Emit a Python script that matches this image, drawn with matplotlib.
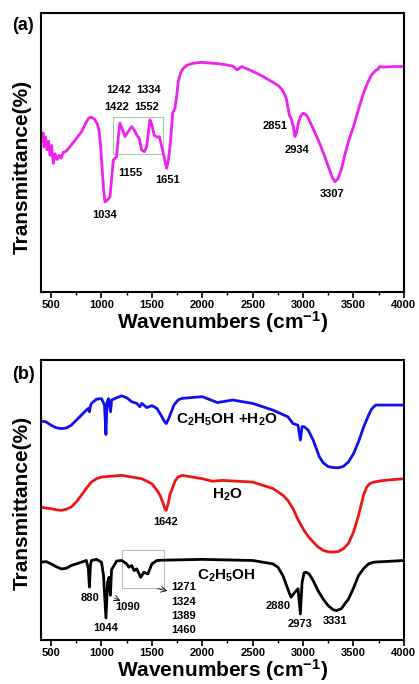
import numpy as np
import matplotlib.pyplot as plt
from matplotlib.patches import Rectangle
from matplotlib.ticker import MultipleLocator

plt.rcParams['font.family'] = ['Liberation Sans', 'DejaVu Sans']
plt.rcParams['font.weight'] = 'bold'
plt.rcParams['mathtext.fontset'] = 'custom'
plt.rcParams['mathtext.rm'] = 'Liberation Sans:bold'
plt.rcParams['mathtext.bf'] = 'Liberation Sans:bold'
plt.rcParams['mathtext.it'] = 'Liberation Sans:bold'
plt.rcParams['mathtext.default'] = 'bf'

# panel (a) spectrum (wavenumber, transmittance in arbitrary units)
wn_a = [400, 410, 420, 430, 445, 460, 475, 490, 505, 522, 540, 560, 580, 600, 620, 650,
        688, 740, 803, 850, 875, 900, 930, 955, 975, 990, 1005, 1020, 1034, 1060, 1084, 1117,
        1150, 1165, 1183, 1205, 1233, 1265, 1299, 1325, 1349, 1375, 1398, 1425, 1448,
        1465, 1481, 1500, 1521, 1550, 1574, 1613, 1646, 1665, 1686, 1706, 1729, 1745,
        1762, 1785, 1812, 1850, 1911, 1993, 2100, 2192, 2300, 2347, 2390, 2506, 2605,
        2704, 2760, 2787, 2815, 2836, 2863, 2886, 2905, 2919, 2935, 2952, 2975, 3001,
        3030, 3060, 3100, 3150, 3200, 3250, 3290, 3316, 3345, 3380, 3420, 3460, 3500,
        3550, 3600, 3640, 3679, 3720, 3745, 3760, 3795, 3900, 4000]
tr_a = [56.9, 54.0, 57.0, 52.0, 55.5, 51.0, 54.0, 49.0, 52.5, 46.1, 49.5, 47.5, 49.0, 48.0, 50.0, 50.5,
        52.1, 54.5, 57.5, 61.0, 62.4, 62.6, 62.0, 60.5, 58.0, 53.0, 45.0, 37.0, 32.3, 33.0, 34.1, 47.3,
        48.5, 55.0, 60.5, 58.5, 55.7, 57.5, 59.3, 58.0, 56.3, 55.0, 50.9, 50.3, 52.1,
        57.0, 61.7, 60.0, 56.3, 55.5, 55.7, 49.7, 44.3, 47.5, 54.5, 64.1, 65.9, 70.0,
        75.5, 78.6, 80.2, 81.3, 82.0, 82.3, 82.0, 81.7, 81.0, 79.6, 80.8, 79.0, 77.2,
        75.1, 73.8, 72.7, 71.0, 68.9, 63.5, 61.7, 59.0, 55.7, 57.0, 60.5, 63.0, 64.1,
        63.5, 61.7, 58.5, 54.5, 50.0, 45.0, 41.0, 39.5, 40.5, 44.0, 50.0, 55.0, 59.3,
        65.5, 71.3, 75.0, 77.8, 79.4, 79.9, 80.8, 80.6, 80.8, 80.8]

# panel (b) spectra
wn_mix = [400, 450, 500, 550, 600, 650, 700, 750, 800, 850, 870, 880, 890, 900, 950, 1000,
          1030, 1044, 1055, 1070, 1090, 1100, 1150, 1200, 1250, 1300, 1350, 1380, 1400,
          1450, 1500, 1550, 1600, 1625, 1642, 1660, 1680, 1720, 1760, 1800, 2000, 2150,
          2300, 2500, 2700, 2850, 2900, 2950, 2973, 2990, 3010, 3050, 3100, 3130, 3160,
          3200, 3250, 3300, 3350, 3400, 3450, 3500, 3550, 3600, 3650, 3680, 3720, 3800, 4000]
tr_mix = [78.2, 77.9, 76.7, 75.8, 75.5, 75.7, 76.7, 78.5, 80.3, 82.1, 82.7, 81.5, 83.5, 84.5,
          86.0, 86.2, 83.9, 73.4, 85.0, 86.2, 81.5, 85.7, 86.5, 87.2, 86.5, 85.1, 84.5, 83.3,
          84.5, 83.0, 83.7, 82.7, 79.7, 78.0, 77.3, 78.5, 80.3, 84.0, 85.7, 86.3, 86.9, 84.8,
          85.7, 84.5, 82.1, 79.7, 77.3, 76.7, 71.4, 76.2, 76.2, 75.0, 71.4, 68.5, 65.5,
          63.3, 61.9, 61.6, 61.5, 62.0, 63.6, 66.5, 70.8, 76.0, 80.3, 82.5, 83.9, 83.9, 83.9]

wn_h2o = [400, 450, 500, 550, 600, 650, 700, 750, 800, 850, 900, 950, 1000, 1100, 1200,
          1400, 1500, 1550, 1580, 1610, 1630, 1642, 1660, 1680, 1700, 1730, 1760, 1800,
          2000, 2100, 2200, 2500, 2700, 2800, 2850, 2900, 2950, 3000, 3050, 3100, 3150,
          3200, 3250, 3300, 3350, 3400, 3450, 3500, 3550, 3600, 3630, 3660, 3700, 3800, 4000]
tr_h2o = [47.5, 47.1, 46.9, 46.5, 46.3, 46.7, 47.5, 49.3, 51.7, 54.2, 56.4, 57.6, 58.2,
          58.5, 58.8, 57.6, 55.8, 53.5, 51.7, 49.0, 46.8, 46.3, 48.5, 52.0, 53.9, 56.8,
          58.2, 58.8, 57.6, 56.7, 57.0, 56.4, 54.1, 51.7, 49.8, 46.9, 43.0, 39.7, 37.0,
          35.0, 33.2, 32.0, 31.5, 31.4, 31.6, 32.6, 34.5, 38.5, 44.5, 51.7, 54.5, 55.8,
          56.4, 57.0, 57.6]

wn_eth = [400, 450, 500, 550, 600, 650, 700, 800, 850, 870, 880, 890, 900, 950, 1000, 1020,
          1044, 1060, 1075, 1088, 1100, 1150, 1200, 1250, 1271, 1300, 1324, 1350, 1389,
          1420, 1460, 1500, 1550, 1600, 2000, 2500, 2700, 2750, 2800, 2860, 2880, 2920,
          2950, 2973, 2990, 3010, 3030, 3060, 3100, 3150, 3200, 3250, 3300, 3331, 3380,
          3420, 3450, 3500, 3550, 3600, 3650, 3700, 4000]
tr_eth = [27.8, 28.0, 27.2, 26.2, 25.4, 25.6, 26.6, 27.8, 28.4, 25.4, 18.9, 26.6, 28.4,
          28.8, 27.8, 23.0, 7.9, 20.5, 22.4, 16.0, 25.1, 28.2, 28.4, 27.2, 26.0, 26.6,
          24.8, 25.4, 22.4, 24.2, 23.6, 27.2, 28.4, 28.5, 28.8, 28.4, 27.2, 26.0, 23.0,
          17.1, 15.3, 17.1, 18.3, 9.3, 20.5, 24.0, 24.2, 23.6, 21.2, 17.5, 14.6, 12.2,
          10.8, 10.5, 11.2, 13.2, 14.6, 18.5, 23.0, 25.5, 27.2, 27.8, 28.4]

labels_a = [('1242', 1167, 72.5), ('1334', 1471, 72.5), ('1422', 1150, 66.2),
            ('1552', 1448, 66.2), ('1155', 1283, 42.5), ('1651', 1656, 40.1),
            ('1034', 1035, 27.5), ('2851', 2724, 59.5), ('2934', 2935, 50.9),
            ('3307', 3289, 35.1)]
labels_b = [('1642', 1636, 42.1), ('880', 882, 15.0), ('1090', 1258, 11.8),
            ('1044', 1041, 4.3), ('1271', 1810, 18.9), ('1324', 1810, 13.7),
            ('1389', 1810, 8.7), ('1460', 1810, 3.7), ('2880', 2757, 12.3),
            ('2973', 2969, 5.7), ('3331', 3316, 6.9)]

fig = plt.figure(figsize=(4.19, 6.84), dpi=100)
ax1 = fig.add_axes([0.0979, 0.5731, 0.866, 0.4079])
ax2 = fig.add_axes([0.0979, 0.0643, 0.866, 0.4094])

for ax in (ax1, ax2):
    ax.set_xlim(400, 4000)
    ax.set_ylim(0, 100)
    ax.xaxis.set_major_locator(MultipleLocator(500))
    ax.xaxis.set_minor_locator(MultipleLocator(250))
    ax.tick_params(axis='x', which='major', direction='out', length=4, width=1.2,
                   labelsize=8, pad=2)
    ax.tick_params(axis='x', which='minor', direction='out', length=2.5, width=1.0)
    ax.set_yticks([])
    for s in ax.spines.values():
        s.set_linewidth(1.5)
    ax.set_xlabel('Wavenumbers (cm$^{-1}$)', fontsize=15, fontweight='bold', labelpad=-1)
    ax.set_ylabel('Transmittance(%)', fontsize=15, fontweight='bold')
    for t in ax.get_xticklabels():
        t.set_fontweight('bold')

ax1.yaxis.set_label_coords(-0.025, 0.45)
ax2.yaxis.set_label_coords(-0.025, 0.49)

ax1.plot(wn_a, tr_a, color='#ee22ee', lw=2, solid_joinstyle='round')
ax1.add_patch(Rectangle((1117, 49.3), 490, 13.6, fill=False, ec='#a8c8a8', lw=0.8))
for txt, x, y in labels_a:
    ax1.text(x, y, txt, fontsize=8, fontweight='bold', ha='center', va='center')

ax2.plot(wn_mix, tr_mix, color='#1010ee', lw=2, solid_joinstyle='round')
ax2.plot(wn_h2o, tr_h2o, color='#ee1515', lw=2, solid_joinstyle='round')
ax2.plot(wn_eth, tr_eth, color='black', lw=2, solid_joinstyle='round')
ax2.add_patch(Rectangle((1207, 18.6), 416, 13.7, fill=False, ec='#a8c8a8', lw=0.8))
for txt, x, y in labels_b:
    ax2.text(x, y, txt, fontsize=8, fontweight='bold', ha='center', va='center')
ax2.text(2241, 78.5, 'C$_2$H$_5$OH +H$_2$O', fontsize=11, ha='center', va='center')
ax2.text(2251, 51.7, 'H$_2$O', fontsize=11, ha='center', va='center')
ax2.text(2241, 23.0, 'C$_2$H$_5$OH', fontsize=11, ha='center', va='center')
ax2.annotate('', xy=(1213, 13.6), xytext=(1104, 15.4),
             arrowprops=dict(arrowstyle='->', lw=0.6, color='black'))
ax2.annotate('', xy=(1680, 17.3), xytext=(1530, 18.6),
             arrowprops=dict(arrowstyle='->', lw=0.6, color='black'))

fig.text(0.029, 0.962, '(a)', fontsize=13, fontweight='bold', va='center')
fig.text(0.029, 0.453, '(b)', fontsize=13, fontweight='bold', va='center')

fig.savefig('out.png', dpi=100)
